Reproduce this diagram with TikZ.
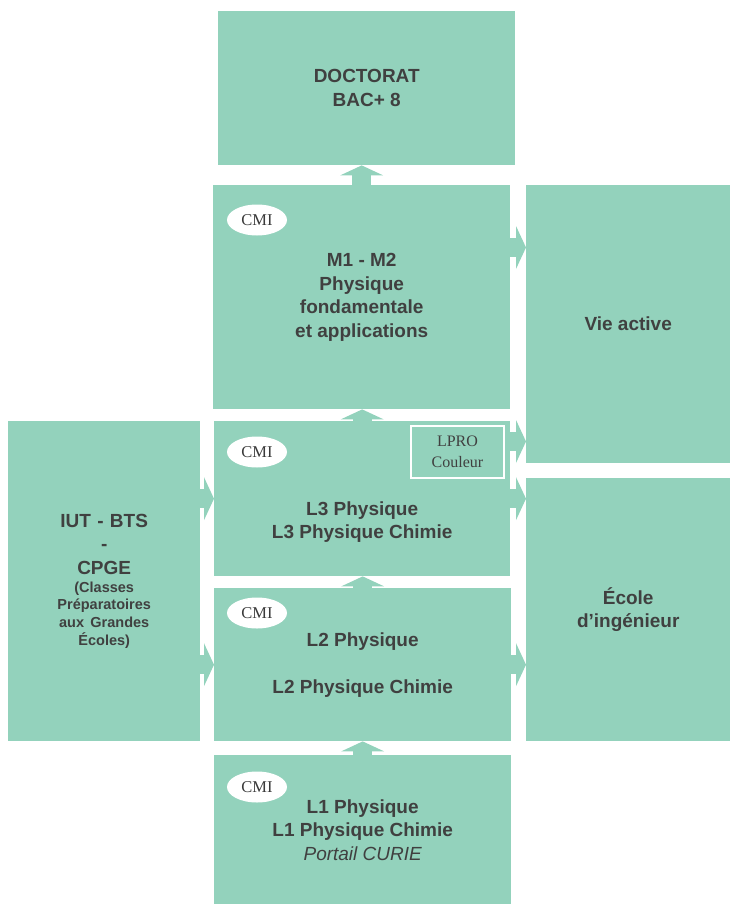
\documentclass[tikz,border=0pt]{standalone}
\usepackage{fontspec}
\setmainfont{Liberation Sans}
\newfontfamily\cmifont{Liberation Serif}
\usetikzlibrary{arrows.meta,shapes.geometric}

\definecolor{boxgreen}{RGB}{147,210,188}
\definecolor{textgray}{RGB}{64,64,64}

\tikzset{
  txt/.style={text=textgray, align=center, font=\fontsize{19}{23.5}\selectfont\bfseries},
  box/.style={fill=boxgreen, draw=none, anchor=north west, inner sep=0pt, txt},
  cmi/.style={ellipse, fill=white, draw=none, inner sep=0pt, minimum width=60pt, minimum height=31pt,
    text=textgray!90!black, font=\cmifont\fontsize{16.5}{18}\selectfont},
  lpro/.style={fill=boxgreen, draw=white, line width=2pt, inner sep=0pt, minimum width=93pt, minimum height=52pt,
    align=center, text=textgray, font=\cmifont\fontsize{16}{21}\selectfont},
  flow/.style={draw=boxgreen, line width=19pt, -{Triangle[length=10pt, width=43pt, line width=0pt]}},
}

\begin{document}
\begin{tikzpicture}[x=1pt,y=1pt,yscale=-1,xscale=1]
	\useasboundingbox (0,0) rectangle (730,904);

	% Boxes
	\node[box, minimum width=297pt, minimum height=154pt] (doc) at (218,11) {DOCTORAT\\BAC+ 8};
	\node[box, minimum width=297pt, minimum height=224pt] (m12) at (213,185) {M1 - M2\\Physique\\fondamentale\\et applications};
	\node[box, minimum width=204pt, minimum height=278pt] (vie) at (526,185) {Vie active};
	\node[box, minimum width=296pt, minimum height=155pt] (l3) at (214,421) {};
	\node[box, minimum width=204pt, minimum height=263pt] (ecole) at (526,478) {École\\d’ingénieur};
	\node[box, minimum width=192pt, minimum height=320pt, text width=184pt] (iut) at (8,421)
		{{IUT - BTS\\-\\CPGE\par}{\fontsize{14.5}{17.8}\selectfont (Classes\\Préparatoires\\aux Grandes\\Écoles)\par}};
	\node[box, minimum width=297pt, minimum height=153pt] (l2) at (214,588) {L2 Physique\\[23.5pt]L2 Physique Chimie};
	\node[box, minimum width=297pt, minimum height=149pt] (l1) at (214,755)
		{L1 Physique\\L1 Physique Chimie\\{\mdseries\itshape Portail CURIE}};

	% Text Node
	\node[txt] (l3txt) at ([yshift=23.5pt]l3.center) {L3 Physique\\L3 Physique Chimie};

	% Arrows up
	\draw[flow] (m12.north) -- (m12.north |- doc.south);
	\draw[flow] (l3.north) -- (l3.north |- m12.south);
	\draw[flow] (l2.north) -- (l2.north |- l3.south);
	\draw[flow] (l1.north) -- (l1.north |- l2.south);

	% Arrows right
	\draw[flow] ([yshift=62.5pt]m12.north east) -- ([yshift=62.5pt]vie.north west);
	\draw[flow] (l3.east) -- (l3.east -| ecole.west);
	\draw[flow] (l2.east) -- (l2.east -| ecole.west);
	\draw[flow] (iut.east |- l3.west) -- (l3.west);
	\draw[flow] (iut.east |- l2.west) -- (l2.west);

	% LPRO
	\node[lpro] (lpro) at (457.5,452) {LPRO\\Couleur};
	\draw[flow] ([xshift=1pt,yshift=-10.5pt]lpro.east) -- ([yshift=-10.5pt]lpro.east -| vie.west);

	% CMI
	\node[cmi] (cmiM) at (257,220) {CMI};
	\node[cmi] (cmiL3) at (257,452) {CMI};
	\node[cmi] (cmiL2) at (257,613) {CMI};
	\node[cmi] (cmiL1) at (257,787) {CMI};

\end{tikzpicture}
\end{document}
